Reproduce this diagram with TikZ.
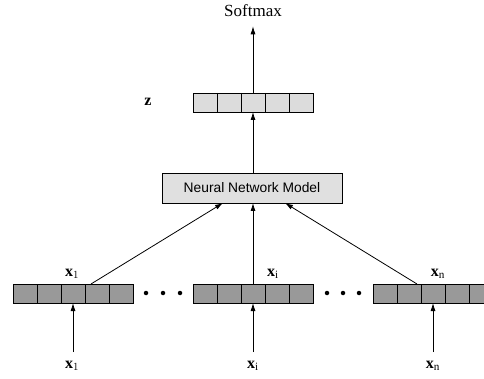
\documentclass[tikz,border=0pt]{standalone}
\usepackage{fontspec}
\setmainfont{Liberation Serif}
\newfontfamily\nnfont{Liberation Sans}
\usetikzlibrary{arrows.meta}
\definecolor{zfill}{HTML}{DCDCDC}
\definecolor{xfill}{HTML}{999999}
\definecolor{nnfill}{HTML}{E0E0E0}
\begin{document}
\begin{tikzpicture}[x=1pt,y=-1pt,
  vecbox/.style={draw=black,line width=0.9pt,minimum width=120pt,minimum height=19pt,inner sep=0pt,outer sep=0pt},
  lbl/.style={inner sep=0pt,font=\fontsize{16}{18}\selectfont},
  conn/.style={line width=0.8pt,-{Latex[length=8pt,width=5pt]}},
  dotmark/.style={circle,fill=black,inner sep=0pt,minimum size=4.5pt}]
\useasboundingbox (0,0) rectangle (484,379);
\clip (0,0) rectangle (484,379);

% output vector z and softmax
\node[lbl,font=\fontsize{17}{19}\selectfont] (soft) at (253,11) {Softmax};
\node[vecbox,fill=zfill] (zbox) at (253,102.5) {};
\node[lbl] (zlab) at (148,102) {$\mathbf{z}$};

% model
\node[draw=black,line width=0.8pt,fill=nnfill,minimum width=180pt,minimum height=30pt,inner sep=0pt,outer sep=0pt,font=\nnfont\fontsize{13.8}{16}\selectfont] (nn) at (252,188) {Neural Network Model};

% input vectors
\node[vecbox,fill=xfill] (b1) at (73,293.5) {};
\node[vecbox,fill=xfill] (b2) at (253,293.5) {};
\node[vecbox,fill=xfill] (b3) at (433,293.5) {};

% cell dividers
\foreach \b in {zbox,b1,b2,b3}{
  \foreach \k in {1,2,3,4}{
    \draw[line width=0.9pt] ([xshift=24*\k pt]\b.north west) -- ([xshift=24*\k pt]\b.south west);
  }
}

% ellipsis dots
\foreach \x [count=\i] in {146,163,180}{\node[dotmark] (dl\i) at (\x,293) {};}
\foreach \x [count=\i] in {327,343,359}{\node[dotmark] (dr\i) at (\x,293) {};}

% labels above the input vectors
\node[lbl] (t1) at (72,274) {$\mathbf{x}_{1}$};
\node[lbl] (ti) at (273,274) {$\mathbf{x}_{\mathrm{i}}$};
\node[lbl] (tn) at (438,274) {$\mathbf{x}_{\mathrm{n}}$};

% labels below
\node[lbl] (u1) at (72,366) {$\mathbf{x}_{1}$};
\node[lbl] (ui) at (253,366) {$\mathbf{x}_{\mathrm{i}}$};
\node[lbl] (un) at (433,366) {$\mathbf{x}_{\mathrm{n}}$};

\coordinate (s1) at (73,352);
\coordinate (si) at (253,352);
\coordinate (sn) at (433,352);

% connectors
\draw[conn] (s1) -- (b1.south);
\draw[conn] (si) -- (b2.south);
\draw[conn] (sn) -- (b3.south);

\draw[conn] ([xshift=18pt]b1.north) -- ([xshift=-29pt]nn.south);
\draw[conn] (b2.north) -- ([xshift=1pt]nn.south);
\draw[conn] ([xshift=-16pt]b3.north) -- ([xshift=33pt]nn.south);

\draw[conn] ([xshift=1pt]nn.north) -- (zbox.south);
\draw[conn] (zbox.north) -- ([yshift=-9pt]soft.south);
\end{tikzpicture}
\end{document}
